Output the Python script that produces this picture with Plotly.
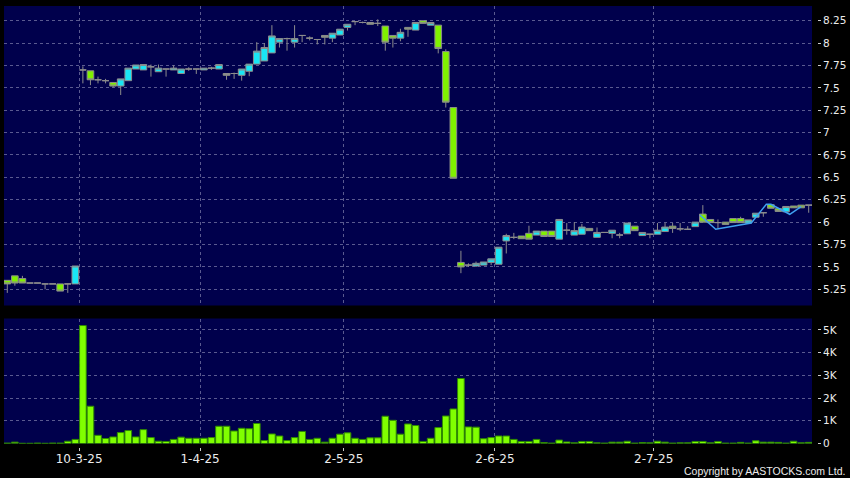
import pandas as pd
import plotly.graph_objects as go

# ---- data ----
holidays = ["2025-04-04", "2025-04-18", "2025-04-21", "2025-05-01", "2025-05-05", "2025-07-01"]
dates = [d for d in pd.bdate_range("2025-02-24", "2025-07-30") if d.strftime("%Y-%m-%d") not in holidays]

open_ = [5.35, 5.40, 5.37, 5.32, 5.32, 5.31, 5.31, 5.31, 5.31, 5.31,
         7.70, 7.69, 7.59, 7.58, 7.56, 7.52, 7.58, 7.71, 7.70, 7.735,
         7.68, 7.71, 7.70, 7.66, 7.71, 7.71, 7.70, 7.72, 7.71, 7.66,
         7.66, 7.64, 7.685, 7.765, 7.80, 7.89, 8.01, 8.05, 8.01, 8.085,
         8.055, 8.04, 8.085, 8.055, 8.09, 8.175, 8.24, 8.23, 8.23, 8.22,
         8.19, 8.085, 8.055, 8.175, 8.145, 8.25, 8.20, 8.20, 7.905, 7.28,
         5.55, 5.52, 5.51, 5.52, 5.55, 5.53, 5.79, 5.83, 5.845, 5.875,
         5.855, 5.90, 5.90, 5.81, 5.91, 5.855, 5.865, 5.93, 5.83, 5.885,
         5.875, 5.856, 5.87, 5.955, 5.85, 5.865, 5.865, 5.895, 5.955, 5.925,
         5.92, 5.95, 6.09, 6.03, 5.995, 6.00, 6.04, 6.04, 5.99, 6.055,
         6.105, 6.195, 6.15, 6.115, 6.18, 6.19, 6.19]
high_ = [5.35, 5.40, 5.40, 5.32, 5.32, 5.31, 5.31, 5.31, 5.31, 5.51,
         7.74, 7.69, 7.625, 7.60, 7.56, 7.60, 7.72, 7.755, 7.76, 7.76,
         7.76, 7.71, 7.75, 7.71, 7.73, 7.71, 7.72, 7.735, 7.76, 7.66,
         7.67, 7.71, 7.765, 8.01, 8.00, 8.20, 8.05, 8.06, 8.20, 8.085,
         8.075, 8.04, 8.085, 8.11, 8.155, 8.21, 8.245, 8.24, 8.23, 8.265,
         8.19, 8.085, 8.16, 8.175, 8.23, 8.25, 8.23, 8.20, 7.93, 7.28,
         5.68, 5.54, 5.56, 5.555, 5.59, 5.72, 5.87, 5.88, 5.845, 5.96,
         5.90, 5.90, 5.90, 6.03, 5.99, 6.00, 5.98, 5.93, 5.94, 5.885,
         5.91, 5.88, 5.99, 5.955, 5.885, 5.865, 5.99, 5.99, 5.99, 5.99,
         5.955, 6.00, 6.19, 6.03, 6.03, 6.00, 6.04, 6.06, 6.025, 6.10,
         6.11, 6.195, 6.15, 6.175, 6.18, 6.19, 6.19]
low_ = [5.21, 5.29, 5.32, 5.32, 5.32, 5.25, 5.31, 5.23, 5.21, 5.31,
        7.55, 7.53, 7.55, 7.55, 7.505, 7.42, 7.58, 7.71, 7.70, 7.625,
        7.68, 7.625, 7.70, 7.66, 7.69, 7.655, 7.70, 7.70, 7.71, 7.59,
        7.60, 7.58, 7.63, 7.765, 7.80, 7.89, 7.95, 7.915, 7.95, 8.01,
        8.03, 7.985, 7.985, 8.01, 8.09, 8.14, 8.20, 8.22, 8.21, 8.19,
        7.915, 7.95, 8.02, 8.07, 8.145, 8.22, 8.20, 7.885, 7.28, 6.49,
        5.43, 5.50, 5.50, 5.52, 5.52, 5.53, 5.65, 5.81, 5.815, 5.81,
        5.855, 5.84, 5.84, 5.81, 5.86, 5.855, 5.865, 5.905, 5.83, 5.885,
        5.82, 5.82, 5.87, 5.905, 5.85, 5.82, 5.865, 5.895, 5.88, 5.90,
        5.92, 5.95, 6.00, 5.995, 5.93, 5.975, 5.995, 5.995, 5.99, 6.055,
        6.06, 6.155, 6.12, 6.115, 6.16, 6.16, 6.105]
close_ = [5.31, 5.32, 5.32, 5.32, 5.32, 5.31, 5.31, 5.23, 5.31, 5.51,
          7.70, 7.59, 7.59, 7.58, 7.52, 7.60, 7.72, 7.755, 7.76, 7.735,
          7.72, 7.71, 7.72, 7.71, 7.71, 7.71, 7.72, 7.72, 7.76, 7.64,
          7.66, 7.71, 7.765, 7.91, 7.95, 8.08, 8.05, 8.05, 8.05, 8.085,
          8.055, 8.04, 8.065, 8.11, 8.155, 8.21, 8.24, 8.23, 8.21, 8.22,
          8.01, 8.055, 8.12, 8.155, 8.23, 8.22, 8.23, 7.94, 7.34, 6.49,
          5.50, 5.52, 5.54, 5.555, 5.59, 5.72, 5.85, 5.83, 5.815, 5.81,
          5.90, 5.84, 5.84, 6.03, 5.91, 5.905, 5.945, 5.905, 5.885, 5.885,
          5.91, 5.856, 5.99, 5.905, 5.885, 5.865, 5.91, 5.945, 5.93, 5.925,
          5.92, 6.00, 6.00, 5.995, 5.995, 5.975, 5.995, 5.995, 6.025, 6.10,
          6.105, 6.155, 6.12, 6.175, 6.16, 6.16, 6.19]
volume = [20, 60, 10, 10, 20, 10, 20, 20, 100, 180,
          5190, 1640, 360, 220, 290, 480, 570, 290, 610, 260,
          100, 90, 180, 280, 230, 230, 230, 260, 760, 760,
          550, 670, 650, 880, 130, 420, 330, 130, 260, 530,
          180, 230, 60, 230, 410, 470, 230, 180, 250, 250,
          1200, 1020, 410, 860, 790, 90, 230, 700, 1210, 1520,
          2860, 730, 720, 210, 260, 330, 330, 180, 90, 90,
          180, 40, 20, 150, 70, 30, 90, 90, 30, 20,
          60, 60, 100, 20, 40, 30, 100, 60, 20, 30,
          30, 90, 90, 30, 90, 20, 20, 50, 20, 120,
          60, 60, 50, 20, 100, 30, 50]
line_pos = [91.6, 93.7, 98.4, 100.4, 101.0, 102.8, 103.5, 105.0]
line_price = [6.08, 5.92, 5.99, 6.20, 6.20, 6.117, 6.088, 6.172]

tick_dates = ["2025-03-10", "2025-04-01", "2025-05-02", "2025-06-02", "2025-07-02"]
price_ticks = [5.25, 5.5, 5.75, 6.0, 6.25, 6.5, 6.75, 7.0, 7.25, 7.5, 7.75, 8.0, 8.25]
price_labels = ["5.25", "5.5", "5.75", "6", "6.25", "6.5", "6.75", "7", "7.25", "7.5", "7.75", "8", "8.25"]
vol_ticks = [0, 1000, 2000, 3000, 4000, 5000]
vol_labels = ["0", "1K", "2K", "3K", "4K", "5K"]

# ---- build ----
idx = list(range(len(dates)))
date_strs = [d.strftime("%Y-%m-%d") for d in dates]
tick_pos = [date_strs.index(t) - 0.5 for t in tick_dates]
tick_text = [f"{pd.Timestamp(t).day}-{pd.Timestamp(t).month}-{pd.Timestamp(t).strftime('%y')}" for t in tick_dates]

NAVY = "#00004c"
GRID = "#5a5a90"
TXT = "#ececec"
FONT = "DejaVu Sans"

fig = go.Figure()
fig.add_trace(go.Candlestick(
    x=idx, open=open_, high=high_, low=low_, close=close_,
    increasing=dict(fillcolor="#19e6f5", line=dict(color="#8c8c8c", width=1)),
    decreasing=dict(fillcolor="#80f000", line=dict(color="#8c8c8c", width=1)),
    whiskerwidth=0, xaxis="x", yaxis="y", showlegend=False, hoverinfo="skip"))
fig.add_trace(go.Scatter(
    x=line_pos, y=line_price, mode="lines",
    line=dict(color="#3fa0f0", width=1.5), xaxis="x", yaxis="y",
    showlegend=False, hoverinfo="skip"))
fig.add_trace(go.Bar(
    x=idx, y=volume, marker=dict(color="#80ff00", line=dict(color="#2e8a00", width=1)),
    xaxis="x2", yaxis="y2", showlegend=False, hoverinfo="skip"))

xr = [-0.435, 106.44]
xdom = [0, 810 / 815]
common_x = dict(range=xr, domain=xdom, showgrid=True, gridcolor=GRID, griddash="3px,3px",
                gridwidth=1, zeroline=False, showline=False, tickvals=tick_pos,
                rangeslider=dict(visible=False))
common_y = dict(side="right", anchor="free", position=1.0, ticks="outside", ticklen=3,
                tickcolor="#cccccc", tickfont=dict(size=10.5),
                showgrid=True, gridcolor=GRID, griddash="3px,3px", zeroline=False, showline=False)

fig.update_layout(
    width=850, height=478,
    margin=dict(l=4, r=31, t=6, b=31),
    paper_bgcolor="#000000", plot_bgcolor=NAVY,
    font=dict(family=FONT, size=11, color=TXT),
    boxgap=0.12, boxgroupgap=0, bargap=0.12,
    xaxis=dict(**common_x, anchor="y", showticklabels=False, ticks=""),
    xaxis2=dict(**common_x, anchor="free", position=0, ticktext=tick_text,
                ticks="outside", ticklen=3, tickcolor="#cccccc", showticklabels=True,
                tickfont=dict(size=12), ticklabelstandoff=-2),
    yaxis=dict(**common_y, domain=[(447 - 305.5) / 441, 1.0], range=[5.069, 8.414],
               tickvals=price_ticks, ticktext=price_labels),
    yaxis2=dict(**common_y, domain=[(447 - 443.5) / 441, (447 - 318.5) / 441], range=[0, 5500],
                tickvals=vol_ticks, ticktext=vol_labels),
    annotations=[dict(text="Copyright by AASTOCKS.com Ltd.", xref="paper", yref="paper",
                      x=1.0 + 30 / 815, y=-(471 - 447) / 441, xanchor="right", yanchor="middle",
                      showarrow=False, font=dict(family="Liberation Sans", size=10.5, color=TXT))],
)

fig.write_html("out.html", config={"displayModeBar": False},
               post_script="document.body.style.margin='0';document.body.style.padding='0';")
